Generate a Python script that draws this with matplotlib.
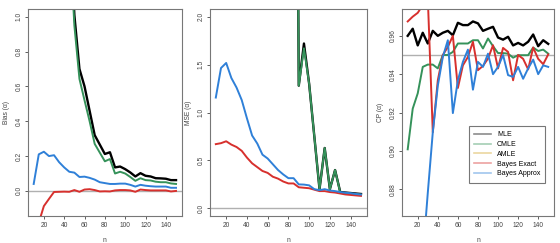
import numpy as np
import matplotlib.pyplot as plt
from matplotlib.lines import Line2D

plt.rcParams['font.family'] = ['Liberation Sans', 'DejaVu Sans']

n = list(range(10, 155, 5))

# Bias
bias_mle = [9.0, 7.0, 5.5, 4.5, 3.6, 3.0, 2.5, 1.6, 1.01, 0.70, 0.60, 0.46, 0.32, 0.266, 0.212, 0.222,
            0.135, 0.14, 0.125, 0.106, 0.083, 0.102, 0.087, 0.083, 0.073, 0.072, 0.07, 0.062, 0.062]
bias_cmle = [8.8, 6.8, 5.3, 4.3, 3.4, 2.8, 2.3, 1.5, 0.95, 0.643, 0.52, 0.40, 0.27, 0.22, 0.17, 0.183,
             0.10, 0.11, 0.10, 0.08, 0.058, 0.073, 0.062, 0.06, 0.053, 0.05, 0.05, 0.043, 0.04]
bias_amle = [np.nan] * len(n)
bias_bexact = [-0.30, -0.182, -0.087, -0.046, -0.006, -0.005, -0.004, -0.005, 0.005, -0.005, 0.008,
               0.01, 0.005, -0.003, -0.002, -0.003, 0.003, 0.005, 0.005, 0.003, -0.005, 0.008, 0.005,
               0.003, 0.003, 0.003, 0.003, -0.003, 0.0]
bias_bapprox = [0.04, 0.21, 0.225, 0.20, 0.205, 0.165, 0.135, 0.11, 0.105, 0.08, 0.082, 0.075, 0.065,
                0.05, 0.045, 0.04, 0.04, 0.042, 0.042, 0.035, 0.025, 0.035, 0.03, 0.027, 0.025, 0.025,
                0.025, 0.018, 0.018]

# MSE
mse_mle = [60, 55, 50, 45, 40, 36, 32, 28, 25, 22, 20, 18, 16, 14, 12, 10,
           1.28, 1.72, 1.30, 0.75, 0.20, 0.63, 0.20, 0.40, 0.17, 0.165, 0.16, 0.155, 0.15]
mse_cmle = [60, 55, 50, 45, 40, 36, 32, 28, 25, 22, 20, 18, 16, 14, 12, 10,
            1.28, 1.67, 1.30, 0.75, 0.20, 0.63, 0.20, 0.40, 0.165, 0.16, 0.155, 0.15, 0.143]
mse_amle = [np.nan] * len(n)
mse_bexact = [0.67, 0.68, 0.70, 0.665, 0.64, 0.60, 0.53, 0.47, 0.43, 0.39, 0.37, 0.33, 0.31, 0.28,
              0.26, 0.26, 0.22, 0.215, 0.21, 0.195, 0.18, 0.18, 0.17, 0.165, 0.155, 0.145, 0.14,
              0.135, 0.13]
mse_bapprox = [1.156, 1.464, 1.517, 1.36, 1.26, 1.13, 0.94, 0.76, 0.676, 0.56, 0.52, 0.46, 0.40,
               0.354, 0.315, 0.315, 0.25, 0.248, 0.24, 0.20, 0.19, 0.20, 0.186, 0.18, 0.17, 0.163,
               0.158, 0.15, 0.144]

# Coverage probability
cp_mle = [0.960, 0.9637, 0.955, 0.9616, 0.956, 0.9626, 0.960, 0.9616, 0.9626, 0.9603, 0.9668,
          0.9656, 0.9656, 0.9675, 0.9665, 0.9626, 0.9637, 0.9647, 0.9591, 0.958, 0.9595, 0.955,
          0.9563, 0.955, 0.9569, 0.9607, 0.9546, 0.9577, 0.9558]
cp_cmle = [0.9008, 0.922, 0.930, 0.9438, 0.945, 0.945, 0.943, 0.950, 0.950, 0.9516, 0.956, 0.956,
           0.956, 0.9577, 0.9577, 0.9534, 0.9586, 0.9546, 0.951, 0.951, 0.9507, 0.9486, 0.9499,
           0.9499, 0.9499, 0.9539, 0.9521, 0.9528, 0.9507]
cp_amle = [np.nan] * len(n)
cp_bexact = [0.9675, 0.970, 0.972, 0.976, 0.980, 0.9097, 0.9368, 0.950, 0.9542, 0.960, 0.9328,
             0.9446, 0.949, 0.9569, 0.9421, 0.9443, 0.9481, 0.9551, 0.943, 0.9537, 0.9516, 0.9368,
             0.950, 0.948, 0.9425, 0.9539, 0.948, 0.9452, 0.9503]
cp_bapprox = [0.70, 0.75, 0.80, 0.8445, 0.878, 0.9097, 0.934, 0.949, 0.9577, 0.9197, 0.9368,
              0.9464, 0.9528, 0.9319, 0.9464, 0.9438, 0.9507, 0.940, 0.9438, 0.950, 0.9395, 0.9386,
              0.9438, 0.9376, 0.943, 0.9476, 0.940, 0.9446, 0.9438]

labels = ['MLE', 'CMLE', 'AMLE', 'Bayes Exact', 'Bayes Approx']
colors = ['black', '#35925a', '#d4a52c', '#d7302d', '#2f80d8']

panels = [
    ([bias_mle, bias_cmle, bias_amle, bias_bexact, bias_bapprox], 'Bias (α)', 0.0,
     (-0.1, 1.0), [0.0, 0.2, 0.4, 0.6, 0.8, 1.0], '{:.1f}'),
    ([mse_mle, mse_cmle, mse_amle, mse_bexact, mse_bapprox], 'MSE (α)', 0.0,
     (0.0, 2.0), [0.0, 0.5, 1.0, 1.5, 2.0], '{:.1f}'),
    ([cp_mle, cp_cmle, cp_amle, cp_bexact, cp_bapprox], 'CP (α)', 0.95,
     (0.87, 0.97), [0.88, 0.90, 0.92, 0.94, 0.96], '{:.2f}'),
]
lefts = [0.05, 0.375, 0.718]
widths = [0.2745, 0.28, 0.271]

fig = plt.figure(figsize=(5.6, 2.43), dpi=100)
for i, (series, ylab, href, ylim, yt, fmt) in enumerate(panels):
    ax = fig.add_axes([lefts[i], 0.111, widths[i], 0.852])
    ax.axhline(href, color='#b0b0b0', lw=1.0, zorder=1)
    for s, c in zip(series, colors):
        ax.plot(n, s, color=c, lw=1.4 if c != 'black' else 1.7, zorder=2)
    ax.set_xlim(4.4, 155.6)
    r = ylim[1] - ylim[0]
    ax.set_ylim(ylim[0] - 0.04 * r, ylim[1] + 0.04 * r)
    ax.set_xticks([20, 40, 60, 80, 100, 120, 140])
    ax.set_yticks(yt)
    ax.set_yticklabels([fmt.format(v) for v in yt], rotation=90, va='center')
    ax.tick_params(labelsize=4.8, length=2.5, width=0.6, pad=1.5, colors='#444444')
    for sp in ax.spines.values():
        sp.set_color('#777777')
        sp.set_linewidth(0.8)
    ax.set_xlabel('n', fontsize=4.8, color='#444444', labelpad=6)
    ax.set_ylabel(ylab, fontsize=4.8, color='#444444', labelpad=4)
    if i == 2:
        handles = [Line2D([], [], color=c, lw=1.2, alpha=0.45) for c in colors]
        leg = ax.legend(handles, labels, loc='lower right', bbox_to_anchor=(0.945, 0.161),
                        borderaxespad=0, fontsize=5.0, frameon=True, fancybox=False,
                        handlelength=2.4, labelspacing=0.4, borderpad=0.75, handletextpad=0.9)
        leg.get_frame().set_edgecolor('#555555')
        leg.get_frame().set_linewidth(0.8)

fig.savefig('out.png', dpi=100)
